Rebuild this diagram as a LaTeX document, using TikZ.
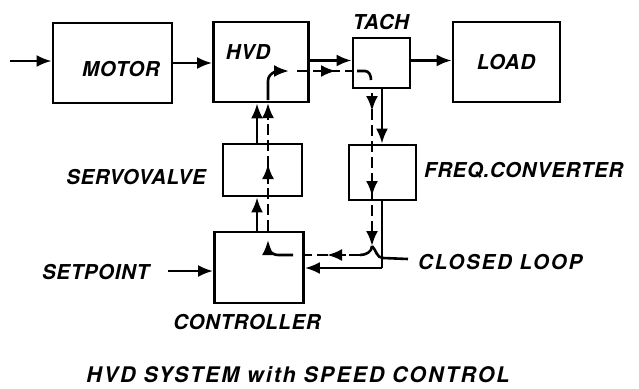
\documentclass[tikz,border=0pt]{standalone}
\usepackage{fontspec}
\newfontfamily\lab[LetterSpace=3]{TeX Gyre Heros}
\newfontfamily\labw[LetterSpace=9]{TeX Gyre Heros}
\usetikzlibrary{arrows.meta}
\begin{document}
\begin{tikzpicture}[x=1pt,y=-1pt,
  box/.style={draw, line width=2.8pt, inner sep=0pt},
  lbl/.style={font=\lab\bfseries\itshape\fontsize{20.5}{24}\selectfont, inner sep=0pt},
  lblw/.style={font=\labw\bfseries\itshape\fontsize{20.5}{24}\selectfont, inner sep=0pt},
  arr/.style={line width=2.6pt, -{Latex[length=15pt,width=12pt]}},
  sig/.style={line width=2.6pt, dash pattern=on 11pt off 5pt},
  plain/.style={line width=2.6pt}]
\useasboundingbox[fill=white] (0,0) rectangle (639,388);

% boxes
\node[box, minimum width=119pt, minimum height=80pt] (motor) at (112.5,63) {};
\node[box, minimum width=95pt, minimum height=80pt] (hvd) at (261,62) {};
\node[box, minimum width=57pt, minimum height=50pt] (tach) at (381.5,63) {};
\node[box, minimum width=107pt, minimum height=80pt] (load) at (506.5,62) {};
\node[box, minimum width=67pt, minimum height=55pt] (freq) at (382.5,172.5) {};
\node[box, minimum width=79pt, minimum height=52pt] (servo) at (262.5,170) {};
\node[box, minimum width=89pt, minimum height=71pt] (ctrl) at (259,267.5) {};

% labels
\node[lbl] (tmotor) at (121,69) {MOTOR};
\node[lbl] (thvd) at (248,52) {HVD};
\node[lbl] (ttach) at (381,22) {TACH};
\node[lbl] (tload) at (506,62) {LOAD};
\node[lbl, anchor=east] (tservo) at (206,177) {SERVOVALVE};
\node[lbl, anchor=west] (tfreq) at (424,170) {FREQ.CONVERTER};
\node[lbl, anchor=west] (tset) at (42,272) {SETPOINT};
\node[lbl] (tctrl) at (247,322) {CONTROLLER};
\node[lblw, anchor=west] (tloop) at (418,262) {CLOSED LOOP};
\node[lblw, font=\labw\bfseries\itshape\fontsize{21.5}{25}\selectfont] (ttitle) at (298,375) {HVD SYSTEM with SPEED CONTROL};

% helper coordinates
\coordinate (in) at (10,61);
\coordinate (r1) at (0,60.5);
\coordinate (sx) at (257,0);
\coordinate (dx) at (268,0);
\coordinate (fx) at (382,0);
\coordinate (tx) at (372,0);
\coordinate (sp) at (168,271);
\coordinate (fb) at (382,268);

% main power flow
\draw[arr] (in) -- (in -| motor.west);
\draw[arr] (motor.east) -- (motor.east -| hvd.west);
\draw[arr] (hvd.east |- r1) -- (tach.west |- r1);
\draw[arr] (tach.east |- r1) -- (load.west |- r1);

% solid control lines
\draw[arr] (sx |- ctrl.north) -- (sx |- servo.south);
\draw[arr] (sx |- servo.north) -- (sx |- hvd.south);
\draw[arr] (fx |- tach.south) -- (fx |- freq.north);
\draw[plain] (fx |- freq.south) -- (fb);
\draw[arr] (fb) -- (fb -| ctrl.east);
\draw[arr] (sp) -- (sp -| ctrl.west);

% dashed signal loop
\coordinate (c1) at (293,255);
\coordinate (c2) at (278,255);
\coordinate (c3) at (268,240);
\draw[arr] (c1) -- (c2) to[out=180,in=-90] (c3);
\draw[sig] (dx |- ctrl.north) -- (dx |- 0,112);
\draw[arr] (268,184) -- (268,164);
\draw[arr] (268,120) -- (268,103);
\coordinate (h1) at (268,100);
\coordinate (h2) at (268,81);
\coordinate (h3) at (289,71);
\draw[arr] (h1) -- (h2) to[out=90,in=180] (h3);
\draw[sig] (297,71) -- (352,71);
\draw[arr] (316,71) -- (336,71);
\coordinate (k1) at (357,71);
\coordinate (k2) at (365,71);
\coordinate (k3) at (371,80);
\draw[plain] (k1) -- (k2) to[out=0,in=90] (k3);
\draw[sig] (tx |- tach.south) ++(0,4) -- (372,236);
\draw[arr] (372,94) -- (372,111);
\draw[arr] (372,178) -- (372,196);
\draw[arr] (372,228) -- (372,246);
\coordinate (y1) at (372,246);
\coordinate (y2) at (360,255);
\draw[plain] (y1) to[out=-90,in=0] (y2);
\draw[sig] (y2) -- (y2 -| ctrl.east);
\draw[arr] (346,255) -- (327,255);
% closed loop leader
\coordinate (l1) at (372,246);
\coordinate (l2) at (408,259);
\draw[plain] (l1) to[out=-45,in=180] (383,258) -- (l2);
\end{tikzpicture}
\end{document}
